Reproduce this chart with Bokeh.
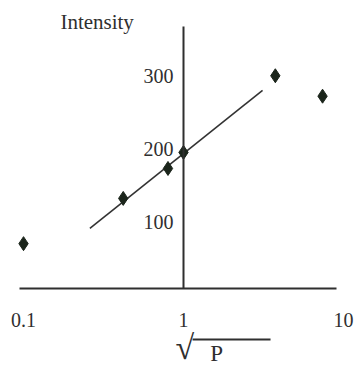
from bokeh.plotting import figure
from bokeh.models import (Range1d, LogAxis, FixedTicker, Label,
                          CustomJSTickFormatter)
from bokeh.embed import file_html
from bokeh.resources import INLINE

# measured intensity against sqrt(P), log-scaled x
sqrt_p = [0.1, 0.42, 0.8, 1.0, 3.75, 7.4]
intensity = [71, 133, 174, 196, 301, 273]

# straight trend line through the middle points
trend_x = [0.26, 3.12]
trend_y = [92, 281]

x_ticks = [0.1, 1, 10]
y_ticks = [100, 200, 300]

# where the two axes cross, and how far their lines run
X_CROSS = 1.0
Y_CROSS = 10
Y_AXIS_TOP = 368
X_AXIS_SPAN = (0.094, 9.04)

Y_MIN, Y_MAX = -97.3, 404.1

SERIF = "Liberation Serif"
INK = "#2f2f2f"
MARK = "#1b251b"

p = figure(width=355, height=366, x_axis_type="log",
           x_range=Range1d(0.0718, 11.89), y_range=Range1d(Y_MIN, Y_MAX),
           output_backend="svg", toolbar_location=None, min_border=0)
p.outline_line_color = None
p.grid.visible = False
p.background_fill_color = "white"

# vertical axis sitting at sqrt(P) = 1
ya = p.yaxis[0]
ya.fixed_location = X_CROSS
ya.bounds = (Y_CROSS, Y_AXIS_TOP)
ya.ticker = FixedTicker(ticks=y_ticks)
ya.axis_line_color = INK
ya.axis_line_width = 2
ya.major_tick_line_color = None
ya.minor_tick_line_color = None
ya.major_label_standoff = 4
ya.major_label_text_font = SERIF
ya.major_label_text_font_size = "20px"
ya.major_label_text_color = INK

# horizontal axis line only
xa = p.xaxis[0]
xa.fixed_location = Y_CROSS
xa.bounds = X_AXIS_SPAN
xa.ticker = FixedTicker(ticks=[])
xa.axis_line_color = INK
xa.axis_line_width = 2
xa.major_tick_line_color = None
xa.minor_tick_line_color = None

# decade labels under the horizontal axis
xl = LogAxis(ticker=FixedTicker(ticks=x_ticks),
             formatter=CustomJSTickFormatter(code="return tick.toString();"))
xl.fixed_location = Y_CROSS
xl.axis_line_color = None
xl.major_tick_line_color = None
xl.minor_tick_line_color = None
xl.major_label_standoff = 19
xl.major_label_text_font = SERIF
xl.major_label_text_font_size = "20px"
xl.major_label_text_color = INK
p.add_layout(xl, "below")

p.line(trend_x, trend_y, line_color="#333333", line_width=1.6)
p.scatter(sqrt_p, intensity, marker="diamond", size=14,
          fill_color=MARK, line_color=MARK)

p.add_layout(Label(x=0.17, y=374, text="Intensity", text_font=SERIF,
                   text_font_size="21px", text_color=INK,
                   text_align="left", text_baseline="alphabetic"))

# x axis title: square root of P with its vinculum
p.add_layout(Label(x=1.165, y=Y_MIN + 0.5, text="\u221a", text_font=SERIF,
                   text_font_size="34px", text_color=INK,
                   text_align="right", text_baseline="bottom"))
p.add_layout(Label(x=1.61, y=Y_MIN + 0.5, text="P", text_font=SERIF,
                   text_font_size="23px", text_color=INK,
                   text_align="center", text_baseline="bottom"))
p.segment(x0=[1.14], y0=[-60.3], x1=[3.5], y1=[-60.3],
          line_color=INK, line_width=2)

open("out.html", "w").write(file_html(p, INLINE))
